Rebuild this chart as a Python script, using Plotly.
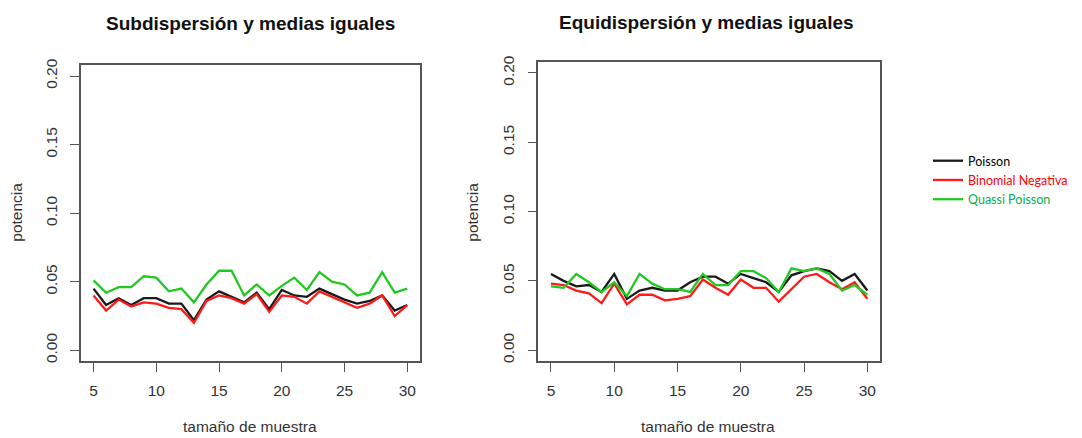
import plotly.graph_objects as go

W, H = 1082, 438

# ---- data ----
n = list(range(5, 31))

sub_poisson = [0.045, 0.033, 0.038, 0.033, 0.038, 0.038, 0.034, 0.034, 0.022, 0.037,
               0.043, 0.039, 0.035, 0.042, 0.030, 0.044, 0.040, 0.039, 0.045, 0.041,
               0.037, 0.034, 0.036, 0.040, 0.029, 0.033]
sub_binneg = [0.040, 0.029, 0.037, 0.032, 0.035, 0.034, 0.031, 0.030, 0.020, 0.036,
              0.040, 0.038, 0.034, 0.041, 0.028, 0.040, 0.039, 0.034, 0.043, 0.039,
              0.035, 0.031, 0.034, 0.040, 0.025, 0.033]
sub_quasi = [0.051, 0.042, 0.046, 0.046, 0.054, 0.053, 0.043, 0.045, 0.035, 0.048,
             0.058, 0.058, 0.040, 0.048, 0.040, 0.047, 0.053, 0.044, 0.057, 0.050,
             0.048, 0.040, 0.042, 0.057, 0.042, 0.045]

eq_poisson = [0.055, 0.050, 0.046, 0.047, 0.042, 0.055, 0.037, 0.043, 0.045, 0.043,
              0.043, 0.049, 0.053, 0.053, 0.048, 0.055, 0.052, 0.049, 0.042, 0.054,
              0.057, 0.059, 0.057, 0.050, 0.055, 0.043]
eq_binneg = [0.048, 0.047, 0.043, 0.041, 0.034, 0.048, 0.033, 0.040, 0.040, 0.036,
             0.037, 0.039, 0.051, 0.045, 0.040, 0.051, 0.045, 0.045, 0.035, 0.044,
             0.053, 0.055, 0.049, 0.044, 0.049, 0.037]
eq_quasi = [0.046, 0.045, 0.055, 0.049, 0.042, 0.049, 0.039, 0.055, 0.048, 0.044,
            0.044, 0.042, 0.055, 0.047, 0.047, 0.057, 0.057, 0.052, 0.042, 0.059,
            0.057, 0.059, 0.055, 0.043, 0.047, 0.040]

series_names = ["Poisson", "Binomial Negativa", "Quassi Poisson"]
line_colors = ["#1a1a1a", "#ff1a1a", "#22c822"]
text_colors = ["#000000", "#ff0000", "#00b050"]

panel_titles = ["Subdispersión y medias iguales", "Equidispersión y medias iguales"]
x_title = "tamaño de muestra"
y_title = "potencia"
x_ticks = [5, 10, 15, 20, 25, 30]
y_ticks = [0.0, 0.05, 0.10, 0.15, 0.20]
y_ticktext = ["0.00", "0.05", "0.10", "0.15", "0.20"]

# ---- figure ----
fig = go.Figure()

panels = [
    ("x", "y", [sub_poisson, sub_binneg, sub_quasi]),
    ("x2", "y2", [eq_poisson, eq_binneg, eq_quasi]),
]
for pi, (xa, ya, data) in enumerate(panels):
    for si, vals in enumerate(data):
        fig.add_trace(go.Scatter(
            x=n, y=vals, mode="lines", xaxis=xa, yaxis=ya,
            line=dict(color=line_colors[si], width=2.3),
            name=f"<span style='color:{text_colors[si]}'>{series_names[si]}</span>",
            showlegend=(pi == 0),
            hoverinfo="skip",
        ))

font_axis = dict(family="Liberation Sans, Arial, sans-serif", size=15.5, color="#333333")
axis_common = dict(showgrid=False, zeroline=False, showline=True, mirror=True,
                   linecolor="#555555", linewidth=1.5, ticks="outside", ticklen=9,
                   tickwidth=1.3, tickcolor="#555555", tickfont=font_axis)

def px_x(p):
    return p / W

def px_y(p):
    return 1 - p / H

fig.update_layout(
    width=W, height=H,
    margin=dict(l=0, r=0, t=0, b=0),
    paper_bgcolor="white", plot_bgcolor="white",
    xaxis=dict(domain=[px_x(81), px_x(419.8)], range=[4, 31], tickvals=x_ticks,
               anchor="y", ticklabelstandoff=5, **axis_common),
    yaxis=dict(domain=[px_y(361.7), px_y(59.3)], range=[-0.008, 0.208], tickvals=y_ticks,
               ticktext=y_ticktext, tickangle=-90, anchor="x", ticklabelstandoff=7,
               **axis_common),
    xaxis2=dict(domain=[px_x(538.3), px_x(880)], range=[4, 31], tickvals=x_ticks,
                anchor="y2", ticklabelstandoff=5, **axis_common),
    yaxis2=dict(domain=[px_y(361.7), px_y(56)], range=[-0.008, 0.208], tickvals=y_ticks,
                ticktext=y_ticktext, tickangle=-90, anchor="x2", ticklabelstandoff=7,
                **axis_common),
    legend=dict(x=px_x(928), y=px_y(142), xanchor="left", yanchor="top",
                font=dict(family="Lato, Open Sans, sans-serif", size=12.5, color="#000"),
                bgcolor="rgba(0,0,0,0)", borderwidth=0, itemwidth=30,
                tracegroupgap=0),
    showlegend=True,
)

title_font = dict(family="Liberation Sans, Arial, sans-serif", size=19, color="#111111")
annots = [
    dict(text=f"<b>{panel_titles[0]}</b>", x=px_x(250), y=px_y(17), font=title_font),
    dict(text=f"<b>{panel_titles[1]}</b>", x=px_x(706.5), y=px_y(16), font=title_font),
    dict(text=x_title, x=px_x(250), y=px_y(428), font=font_axis),
    dict(text=x_title, x=px_x(708.3), y=px_y(428), font=font_axis),
    dict(text=y_title, x=px_x(17), y=px_y(210), font=font_axis, textangle=-90),
    dict(text=y_title, x=px_x(473), y=px_y(210), font=font_axis, textangle=-90),
]
for a in annots:
    fig.add_annotation(xref="paper", yref="paper", showarrow=False,
                       xanchor="center", yanchor="middle", **a)

fig.write_html("out.html")
